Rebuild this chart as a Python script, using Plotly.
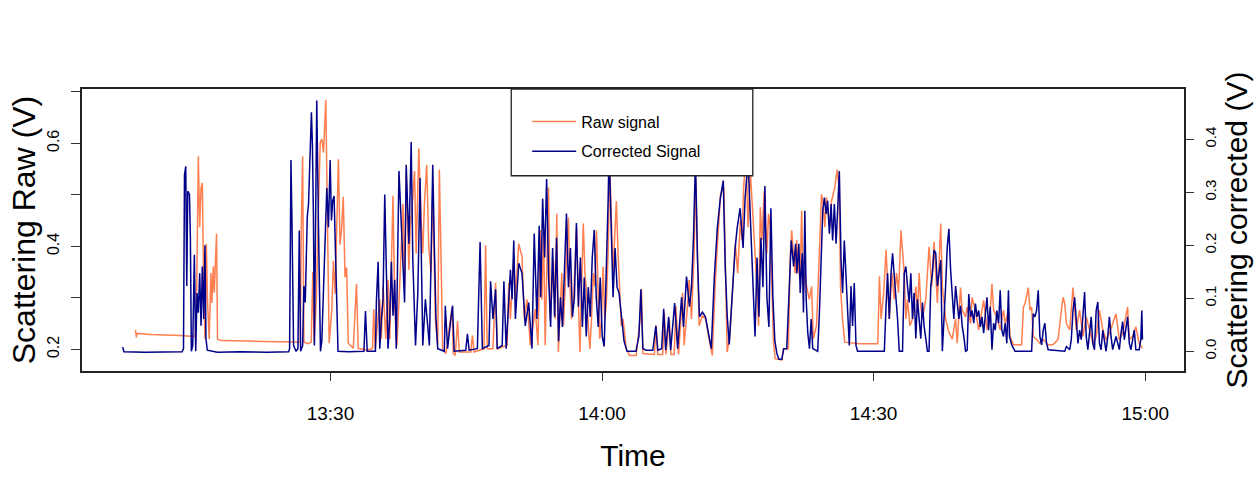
import pandas as pd
import plotly.graph_objects as go

# ---------------- data (time in minutes after 13:00) ----------------
t_raw = [
    8.46, 8.57, 8.62, 10.05, 13.34, 14.97, 15.08, 15.23, 15.41, 15.56,
    15.71, 15.85, 16.00, 16.14, 16.29, 16.43, 16.61, 16.80, 16.91, 17.06,
    17.17, 17.28, 17.42, 17.53, 17.91, 21.00, 25.38, 26.67, 26.78, 26.93,
    27.07, 27.58, 27.88, 28.05, 28.20, 28.45, 28.69, 28.87, 29.05, 29.24,
    29.49, 29.71, 29.86, 30.15, 30.33, 30.52, 30.69, 30.88, 31.06, 31.24,
    31.42, 31.61, 31.79, 31.97, 32.52, 32.88, 33.07, 34.00, 34.64, 34.79,
    34.94, 35.45, 35.63, 35.82, 36.11, 36.37, 36.55, 36.91, 37.10, 37.35,
    37.71, 38.01, 38.19, 38.37, 38.67, 38.81, 39.10, 39.29, 39.47, 39.76,
    40.01, 40.20, 40.38, 40.64, 40.86, 41.11, 41.30, 41.59, 41.85, 42.03,
    42.21, 42.39, 42.76, 43.30, 43.42, 43.57, 43.79, 44.04, 44.23, 45.50,
    45.68, 45.87, 46.96, 47.14, 47.32, 47.95, 48.24, 48.42, 49.52, 49.70,
    49.88, 50.25, 50.43, 50.80, 51.16, 51.42, 51.72, 52.08, 52.63, 52.92,
    53.17, 53.36, 53.54, 53.72, 53.90, 54.09, 54.27, 54.45, 54.64, 54.82,
    55.00, 55.18, 55.36, 55.55, 55.73, 55.91, 56.10, 56.28, 56.46, 56.64,
    56.83, 57.01, 57.19, 57.38, 57.56, 57.74, 57.93, 58.11, 58.29, 58.48,
    58.66, 58.84, 59.03, 59.21, 59.39, 59.57, 59.75, 59.94, 60.12, 60.30,
    60.48, 60.67, 60.85, 61.03, 61.22, 61.40, 61.58, 61.77, 61.95, 62.13,
    62.32, 62.68, 63.04, 63.77, 64.21, 64.36, 64.51, 65.78, 65.97, 66.15,
    66.70, 66.88, 67.06, 67.43, 67.61, 67.97, 68.16, 68.45, 68.89, 69.07,
    69.44, 69.62, 69.88, 70.17, 70.35, 70.54, 70.72, 71.09, 71.45, 71.82,
    72.18, 72.54, 72.84, 73.09, 73.45, 73.64, 73.82, 74.07, 74.37, 74.73,
    74.98, 75.28, 75.46, 75.64, 75.91, 76.13, 76.38, 76.93, 77.11, 77.29,
    77.48, 77.66, 77.91, 78.21, 78.39, 78.57, 78.75, 78.94, 79.12, 79.86,
    80.03, 80.58, 80.77, 80.95, 81.13, 81.32, 81.50, 81.68, 81.87, 82.05,
    82.23, 82.41, 82.60, 82.89, 83.15, 83.33, 83.69, 83.88, 84.06, 84.24,
    84.43, 84.61, 84.79, 84.98, 85.16, 85.35, 85.53, 85.71, 85.97, 86.19,
    86.34, 86.56, 86.81, 88.45, 90.46, 90.64, 90.82, 91.11, 91.37, 91.54,
    91.73, 92.02, 92.28, 92.53, 92.75, 93.02, 93.19, 93.38, 93.56, 93.74,
    94.00, 94.29, 94.66, 94.84, 95.03, 95.21, 95.39, 95.76, 96.12, 96.42,
    96.67, 96.86, 97.04, 97.41, 97.59, 97.95, 98.31, 98.68, 99.05, 99.23,
    99.41, 99.60, 99.78, 100.15, 100.33, 100.70, 100.87, 101.24, 101.60, 102.15,
    102.52, 102.88, 103.07, 103.25, 103.61, 103.98, 104.34, 104.53, 104.89, 105.07,
    105.44, 106.35, 106.54, 106.72, 107.08, 107.27, 107.45, 107.63, 108.00, 108.36,
    108.73, 109.28, 109.82, 110.37, 110.74, 110.92, 111.11, 111.29, 111.66, 112.02,
    112.38, 112.75, 113.11, 113.48, 113.85, 114.21, 114.58, 114.94, 115.31, 115.67,
    116.04, 116.77, 117.14, 117.50, 118.05, 118.24, 118.60, 118.96, 119.33, 119.69,
]
raw_signal = [
    0.238, 0.223, 0.231, 0.229, 0.227, 0.225, 0.228, 0.322, 0.575, 0.437,
    0.514, 0.523, 0.322, 0.220, 0.405, 0.290, 0.220, 0.348, 0.290, 0.361,
    0.310, 0.374, 0.425, 0.220, 0.217, 0.216, 0.215, 0.214, 0.437, 0.575,
    0.214, 0.211, 0.214, 0.350, 0.214, 0.300, 0.480, 0.601, 0.608, 0.582,
    0.684, 0.403, 0.212, 0.276, 0.372, 0.308, 0.467, 0.569, 0.403, 0.435,
    0.496, 0.340, 0.359, 0.212, 0.202, 0.327, 0.202, 0.199, 0.201, 0.278,
    0.201, 0.297, 0.220, 0.322, 0.220, 0.335, 0.220, 0.498, 0.290, 0.208,
    0.348, 0.482, 0.322, 0.546, 0.354, 0.437, 0.495, 0.546, 0.386, 0.590,
    0.450, 0.386, 0.482, 0.558, 0.399, 0.348, 0.514, 0.259, 0.208, 0.549,
    0.386, 0.201, 0.192, 0.259, 0.281, 0.192, 0.188, 0.255, 0.195, 0.195,
    0.227, 0.195, 0.201, 0.402, 0.201, 0.201, 0.329, 0.201, 0.208, 0.329,
    0.259, 0.380, 0.297, 0.405, 0.380, 0.259, 0.297, 0.208, 0.278, 0.208,
    0.431, 0.297, 0.437, 0.208, 0.386, 0.514, 0.259, 0.322, 0.373, 0.259,
    0.463, 0.195, 0.259, 0.348, 0.246, 0.322, 0.386, 0.456, 0.322, 0.259,
    0.290, 0.361, 0.437, 0.297, 0.195, 0.322, 0.444, 0.348, 0.310, 0.246,
    0.201, 0.259, 0.348, 0.322, 0.431, 0.310, 0.220, 0.259, 0.361, 0.259,
    0.290, 0.386, 0.560, 0.450, 0.348, 0.418, 0.488, 0.386, 0.297, 0.246,
    0.259, 0.201, 0.188, 0.188, 0.259, 0.316, 0.192, 0.190, 0.246, 0.190,
    0.190, 0.271, 0.190, 0.259, 0.190, 0.190, 0.284, 0.190, 0.310, 0.208,
    0.284, 0.335, 0.259, 0.386, 0.530, 0.348, 0.246, 0.265, 0.259, 0.220,
    0.188, 0.342, 0.437, 0.501, 0.514, 0.348, 0.195, 0.220, 0.310, 0.405,
    0.348, 0.450, 0.412, 0.514, 0.577, 0.437, 0.546, 0.386, 0.322, 0.246,
    0.476, 0.412, 0.507, 0.386, 0.463, 0.437, 0.348, 0.214, 0.182, 0.179,
    0.201, 0.201, 0.373, 0.431, 0.386, 0.348, 0.412, 0.361, 0.335, 0.469,
    0.310, 0.348, 0.322, 0.297, 0.322, 0.220, 0.246, 0.322, 0.412, 0.501,
    0.482, 0.437, 0.495, 0.463, 0.437, 0.488, 0.501, 0.514, 0.549, 0.514,
    0.322, 0.259, 0.214, 0.211, 0.211, 0.342, 0.259, 0.310, 0.393, 0.322,
    0.259, 0.348, 0.297, 0.348, 0.310, 0.431, 0.386, 0.348, 0.259, 0.297,
    0.246, 0.259, 0.322, 0.271, 0.348, 0.284, 0.259, 0.297, 0.399, 0.322,
    0.409, 0.348, 0.290, 0.444, 0.322, 0.259, 0.233, 0.220, 0.259, 0.212,
    0.263, 0.320, 0.276, 0.263, 0.282, 0.250, 0.301, 0.276, 0.238, 0.295,
    0.238, 0.276, 0.327, 0.276, 0.263, 0.238, 0.276, 0.250, 0.276, 0.225,
    0.209, 0.209, 0.282, 0.289, 0.320, 0.276, 0.282, 0.225, 0.219, 0.212,
    0.219, 0.209, 0.209, 0.219, 0.276, 0.301, 0.289, 0.250, 0.238, 0.320,
    0.238, 0.276, 0.225, 0.263, 0.238, 0.212, 0.225, 0.276, 0.238, 0.219,
    0.231, 0.269, 0.219, 0.231, 0.282, 0.219, 0.225, 0.244, 0.212, 0.202,
]

t_corrected = [
    7.05, 7.19, 9.50, 11.50, 13.62, 13.77, 13.88, 14.02, 14.13, 14.24,
    14.43, 14.53, 14.64, 14.79, 14.97, 15.12, 15.27, 15.41, 15.56, 15.71,
    15.85, 16.00, 16.14, 16.25, 16.40, 17.50, 20.00, 23.00, 25.38, 25.49,
    25.64, 25.75, 25.93, 26.19, 26.41, 26.56, 26.71, 26.93, 27.07, 27.22,
    27.44, 27.58, 27.73, 27.79, 27.90, 28.01, 28.12, 28.23, 28.34, 28.49,
    28.67, 28.90, 29.05, 29.23, 29.42, 29.60, 29.78, 29.97, 30.11, 30.25,
    30.40, 30.55, 30.69, 30.84, 32.00, 33.70, 33.87, 34.06, 34.97, 35.08,
    35.27, 35.45, 35.63, 35.81, 36.00, 36.18, 36.36, 36.55, 36.73, 36.91,
    37.10, 37.27, 37.57, 37.75, 37.93, 38.19, 38.37, 38.67, 38.92, 39.10,
    39.40, 39.65, 39.90, 40.20, 40.49, 40.75, 40.93, 41.11, 41.30, 41.48,
    41.66, 41.85, 42.58, 42.69, 42.94, 43.30, 43.49, 43.67, 44.95, 45.13,
    45.32, 46.23, 46.53, 46.78, 47.51, 47.69, 47.95, 48.24, 48.42, 48.97,
    49.16, 49.41, 49.88, 50.07, 50.25, 50.43, 50.80, 51.16, 51.52, 51.90,
    52.26, 52.51, 52.81, 53.06, 53.22, 53.44, 53.66, 53.88, 54.10, 54.32,
    54.54, 54.76, 54.98, 55.20, 55.41, 55.63, 55.85, 56.07, 56.29, 56.51,
    56.73, 56.95, 57.17, 57.39, 57.61, 57.83, 58.04, 58.26, 58.48, 58.70,
    58.92, 59.14, 59.36, 59.58, 59.80, 60.02, 60.24, 60.46, 60.68, 60.78,
    61.00, 61.22, 61.44, 61.66, 61.88, 62.21, 62.43, 62.76, 63.74, 64.07,
    64.29, 64.51, 64.84, 65.61, 65.94, 66.16, 66.59, 66.81, 67.03, 67.36,
    67.58, 68.02, 68.35, 68.79, 69.00, 69.33, 69.66, 69.88, 70.10, 70.32,
    70.54, 70.76, 71.09, 71.42, 71.74, 72.07, 72.40, 72.73, 73.06, 73.39,
    73.61, 73.83, 74.05, 74.38, 74.70, 74.92, 75.25, 75.58, 75.80, 76.13,
    76.46, 76.68, 76.90, 77.12, 77.33, 77.55, 77.77, 77.99, 78.21, 78.43,
    78.65, 78.87, 79.09, 79.31, 79.53, 79.86, 80.07, 80.40, 80.72, 80.90,
    81.16, 81.38, 81.52, 81.74, 81.89, 82.11, 82.25, 82.40, 82.55, 82.72,
    82.91, 83.10, 83.27, 83.82, 84.01, 84.19, 84.38, 84.56, 84.75, 84.92,
    85.11, 85.30, 85.47, 85.66, 85.85, 86.02, 86.21, 86.40, 86.57, 86.76,
    86.95, 87.12, 87.31, 87.50, 87.67, 87.86, 88.05, 88.22, 91.18, 91.37,
    91.54, 91.73, 91.92, 92.09, 92.28, 92.47, 92.64, 92.83, 93.19, 93.38,
    93.56, 93.74, 93.93, 94.11, 94.29, 94.47, 94.66, 94.84, 95.03, 95.21,
    95.39, 95.57, 95.76, 95.94, 96.12, 96.31, 96.49, 96.67, 96.86, 97.04,
    97.22, 97.41, 97.59, 97.76, 97.95, 98.13, 98.31, 98.50, 98.68, 98.86,
    99.05, 99.23, 99.41, 99.60, 99.78, 99.96, 100.15, 100.33, 100.51, 100.70,
    100.87, 101.06, 101.24, 101.42, 101.60, 101.79, 101.97, 102.15, 102.34, 102.52,
    102.70, 102.88, 103.07, 103.25, 103.43, 103.61, 103.80, 103.98, 104.16, 104.34,
    104.53, 104.71, 104.89, 105.00, 105.25, 105.62, 107.45, 107.63, 107.82, 108.00,
    108.18, 108.36, 108.55, 108.73, 108.91, 109.10, 109.28, 111.11, 111.29, 111.66,
    111.83, 112.02, 112.20, 112.38, 112.57, 112.75, 112.93, 113.30, 113.48, 113.66,
    113.85, 114.03, 114.21, 114.39, 114.58, 114.76, 114.94, 115.12, 115.31, 115.49,
    115.67, 115.86, 116.04, 116.22, 116.40, 116.77, 116.95, 117.14, 117.32, 117.50,
    117.69, 118.05, 118.24, 118.42, 118.79, 118.96, 119.33, 119.51, 119.62, 119.69,
]
corrected_signal = [
    0.008, -0.001, -0.002, -0.001, -0.001, 0.005, 0.333, 0.349, 0.123, 0.302,
    0.296, 0.216, 0.000, 0.011, 0.182, 0.000, 0.110, 0.073, 0.147, 0.048,
    0.160, 0.061, 0.200, 0.024, 0.002, -0.002, -0.001, -0.002, -0.001, 0.005,
    0.361, 0.247, 0.011, 0.000, 0.005, 0.228, 0.000, 0.011, 0.123, 0.092,
    0.253, 0.278, 0.377, 0.395, 0.451, 0.389, 0.259, 0.011, 0.234, 0.473,
    0.247, 0.000, 0.020, 0.123, 0.247, 0.308, 0.234, 0.361, 0.247, 0.284,
    0.293, 0.172, 0.061, 0.000, -0.001, 0.000, 0.076, 0.000, 0.000, 0.095,
    0.169, 0.005, 0.061, 0.098, 0.296, 0.147, 0.005, 0.061, 0.169, 0.067,
    0.135, 0.005, 0.340, 0.271, 0.185, 0.092, 0.352, 0.203, 0.395, 0.172,
    0.011, 0.110, 0.327, 0.011, 0.098, 0.048, 0.011, 0.166, 0.352, 0.197,
    0.061, 0.005, 0.000, 0.086, 0.005, 0.061, 0.086, 0.000, 0.002, 0.033,
    0.002, 0.005, 0.206, 0.005, 0.011, 0.132, 0.061, 0.117, 0.005, 0.011,
    0.132, 0.005, 0.154, 0.098, 0.209, 0.061, 0.166, 0.147, 0.048, 0.092,
    0.005, 0.222, 0.061, 0.237, 0.102, 0.288, 0.177, 0.325, 0.139, 0.046,
    0.195, 0.065, 0.214, 0.019, 0.102, 0.046, 0.177, 0.260, 0.121, 0.195,
    0.065, 0.102, 0.242, 0.084, 0.177, 0.046, 0.139, 0.028, 0.121, 0.065,
    0.177, 0.229, 0.102, 0.046, 0.139, 0.028, 0.009, 0.139, 0.288, 0.381,
    0.232, 0.102, 0.195, 0.121, 0.110, 0.046, 0.019, 0.000, 0.000, 0.028,
    0.117, 0.005, 0.002, 0.002, 0.048, 0.002, 0.005, 0.080, 0.002, 0.065,
    0.002, 0.091, 0.005, 0.102, 0.046, 0.141, 0.084, 0.121, 0.214, 0.362,
    0.177, 0.065, 0.074, 0.065, 0.037, 0.005, 0.139, 0.232, 0.288, 0.322,
    0.158, 0.065, 0.013, 0.102, 0.195, 0.232, 0.270, 0.195, 0.288, 0.362,
    0.214, 0.102, 0.028, 0.177, 0.065, 0.214, 0.121, 0.312, 0.102, 0.046,
    0.270, 0.102, 0.019, -0.004, -0.015, -0.015, 0.005, 0.005, 0.123, 0.209,
    0.160, 0.203, 0.147, 0.203, 0.110, 0.185, 0.073, 0.265, 0.098, 0.036,
    0.005, 0.061, 0.005, 0.000, 0.073, 0.172, 0.265, 0.290, 0.259, 0.284,
    0.222, 0.278, 0.209, 0.278, 0.203, 0.265, 0.340, 0.172, 0.110, 0.209,
    0.147, 0.073, 0.011, 0.123, 0.048, 0.129, 0.011, 0.000, 0.000, 0.086,
    0.147, 0.061, 0.147, 0.185, 0.147, 0.110, 0.061, 0.000, 0.000, 0.147,
    0.160, 0.123, 0.092, 0.147, 0.061, 0.110, 0.024, 0.098, 0.061, 0.024,
    0.092, 0.048, 0.024, 0.000, 0.000, 0.123, 0.147, 0.191, 0.185, 0.123,
    0.147, 0.172, 0.000, 0.048, 0.123, 0.197, 0.231, 0.154, 0.098, 0.061,
    0.123, 0.092, 0.061, 0.086, 0.048, 0.028, 0.000, 0.002, 0.108, 0.065,
    0.077, 0.053, 0.090, 0.065, 0.077, 0.046, 0.065, 0.034, 0.077, 0.102,
    0.040, 0.084, 0.003, 0.053, 0.040, 0.077, 0.053, 0.115, 0.040, 0.028,
    0.053, 0.015, 0.115, 0.028, 0.012, 0.000, 0.000, 0.071, 0.065, 0.077,
    0.115, 0.028, 0.012, 0.040, 0.053, 0.015, 0.003, 0.000, 0.009, 0.003,
    0.022, 0.077, 0.102, 0.065, 0.015, 0.040, 0.022, 0.112, 0.028, 0.003,
    0.040, 0.065, 0.015, 0.003, 0.077, 0.093, 0.015, 0.003, 0.040, 0.015,
    0.000, 0.028, 0.065, 0.028, 0.003, 0.028, 0.015, 0.003, 0.034, 0.056,
    0.022, 0.065, 0.015, 0.003, 0.040, 0.003, 0.003, 0.022, 0.077, 0.022,
]

x_tick_minutes = [30, 60, 90, 120]
x_tick_labels = ["13:30", "14:00", "14:30", "15:00"]
raw_ticks = [0.2, 0.3, 0.4, 0.5, 0.6, 0.7]
raw_tick_labels = ["0.2", "", "0.4", "", "0.6", ""]
corr_ticks = [0.0, 0.1, 0.2, 0.3, 0.4]
corr_tick_labels = ["0.0", "0.1", "0.2", "0.3", "0.4"]

assert len(t_raw) == len(raw_signal)
assert len(t_corrected) == len(corrected_signal)

start = pd.Timestamp("2020-01-01 13:00")


def clock(minutes):
    return start + pd.to_timedelta(pd.Series(minutes, dtype=float), unit="min")


FONT = "Liberation Sans, Arial, sans-serif"
ORANGE = "#FF7F50"
NAVY = "#00008B"

fig = go.Figure()
fig.add_trace(go.Scatter(
    x=clock(t_raw), y=raw_signal, mode="lines", name="Raw signal",
    line=dict(color=ORANGE, width=1.5), legendgroup="raw", yaxis="y"))
fig.add_trace(go.Scatter(
    x=clock(t_corrected), y=corrected_signal, mode="lines", name="Corrected Signal",
    line=dict(color=NAVY, width=1.5), legendgroup="corr", yaxis="y2"))

x_range = clock([2.56, 124.28])
fig.update_layout(
    width=1260, height=479,
    margin=dict(l=82, r=69, t=89, b=104),
    paper_bgcolor="white", plot_bgcolor="white",
    font=dict(family=FONT, color="black"),
    showlegend=True,
    legend=dict(x=0.404, y=0.945, xanchor="left", yanchor="top",
                bgcolor="rgba(0,0,0,0)", borderwidth=0,
                font=dict(size=16, family=FONT, color="black"),
                tracegroupgap=6, itemwidth=44),
    xaxis=dict(
        type="date", range=list(x_range),
        tickvals=list(clock(x_tick_minutes)), ticktext=x_tick_labels,
        ticks="outside", ticklen=8, tickwidth=1, tickcolor="#333",
        showline=True, linecolor="#222", linewidth=1.5, mirror=True,
        showgrid=False, zeroline=False,
        tickfont=dict(size=19), ticklabelstandoff=16,
        title=dict(text="Time", font=dict(size=30), standoff=22),
    ),
    yaxis=dict(
        range=[0.158, 0.7053],
        tickvals=raw_ticks, ticktext=raw_tick_labels, tickangle=-90,
        ticks="outside", ticklen=9, tickwidth=1, tickcolor="#333",
        showline=True, linecolor="#222", linewidth=1.5,
        showgrid=False, zeroline=False,
        tickfont=dict(size=16), ticklabelstandoff=6,
        title=dict(text="Scattering Raw (V)", font=dict(size=32), standoff=0),
    ),
    yaxis2=dict(
        overlaying="y", side="right", range=[-0.0372, 0.4949],
        tickvals=corr_ticks, ticktext=corr_tick_labels, tickangle=-90,
        ticks="outside", ticklen=8, tickwidth=1, tickcolor="#333",
        showline=True, linecolor="#222", linewidth=1.5,
        showgrid=False, zeroline=False,
        tickfont=dict(size=15), ticklabelstandoff=4,
        title=dict(text="Scattering corrected (V)", font=dict(size=30), standoff=8),
    ),
    shapes=[dict(type="rect", xref="paper", yref="paper",
                 x0=0.3895, x1=0.6087, y0=0.6923, y1=1.0,
                 line=dict(color="#222", width=1.3), fillcolor="white", layer="above")],
)

fig.write_html("out.html", config={"displayModeBar": False},
               post_script="document.body.style.margin='0';document.body.style.overflow='hidden';")
